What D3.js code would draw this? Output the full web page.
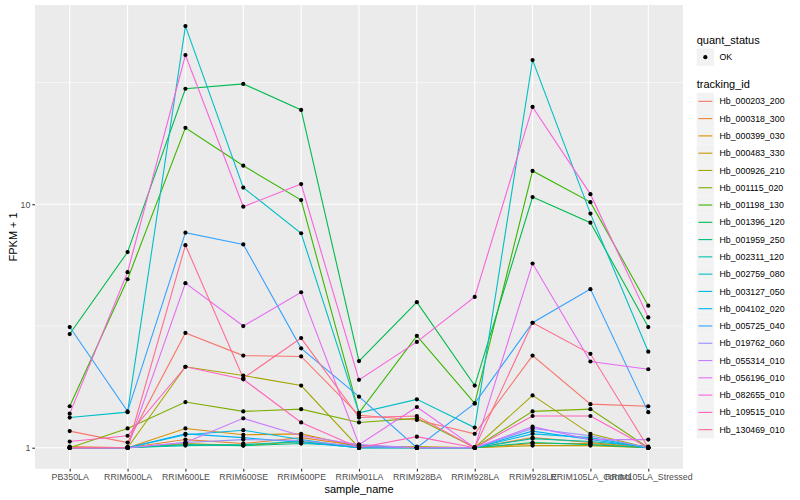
<!DOCTYPE html>
<html>
<head>
<meta charset="utf-8">
<script src="https://cdn.jsdelivr.net/npm/d3@7"></script>
<style>
  body { margin: 0; background: #fff; }
  text { font-family: "Liberation Sans", Arial, sans-serif; }
</style>
</head>
<body>
<svg width="800" height="500"></svg>
<script>
// samples on the x axis
var samples = ["PB350LA", "RRIM600LA", "RRIM600LE", "RRIM600SE", "RRIM600PE", "RRIM901LA",
               "RRIM928BA", "RRIM928LA", "RRIM928LE", "RRIM105LA_Control", "RRIM105LA_Stressed"];

var trackingIds = ["Hb_000203_200", "Hb_000318_300", "Hb_000399_030", "Hb_000483_330", "Hb_000926_210",
                   "Hb_001115_020", "Hb_001198_130", "Hb_001396_120", "Hb_001959_250", "Hb_002311_120",
                   "Hb_002759_080", "Hb_003127_050", "Hb_004102_020", "Hb_005725_040", "Hb_019762_060",
                   "Hb_055314_010", "Hb_056196_010", "Hb_082655_010", "Hb_109515_010", "Hb_130469_010"];

// FPKM + 1, one array per gene, in sample order
var hb_000203_200 = [1.17, 1.05, 2.96, 2.39, 2.37, 1.36, 1.30, 1.14, 2.39, 1.51, 1.48];
var hb_000318_300 = [1.01, 1.00, 1.08, 1.04, 1.10, 1.02, 1.00, 1.00, 1.10, 1.05, 1.00];
var hb_000399_030 = [1.00, 1.00, 1.20, 1.13, 1.14, 1.01, 1.00, 1.00, 1.04, 1.04, 1.00];
var hb_000483_330 = [1.00, 1.00, 1.04, 1.02, 1.06, 1.00, 1.01, 1.00, 1.02, 1.02, 1.00];
var hb_000926_210 = [1.00, 1.00, 2.15, 1.98, 1.80, 1.00, 1.00, 1.00, 1.64, 1.14, 1.00];
var hb_001115_020 = [1.00, 1.20, 1.54, 1.41, 1.44, 1.27, 1.32, 1.00, 1.41, 1.44, 1.00];
var hb_001198_130 = [1.48, 4.92, 20.6, 14.4, 10.4, 1.39, 2.88, 1.52, 13.7, 10.2, 3.83];
var hb_001396_120 = [2.93, 6.36, 29.8, 31.2, 24.4, 2.27, 3.96, 1.80, 10.7, 8.40, 3.13];
var hb_001959_250 = [1.00, 1.00, 1.03, 1.02, 1.04, 1.02, 1.00, 1.00, 1.05, 1.03, 1.00];
var hb_002311_120 = [1.00, 1.00, 1.02, 1.03, 1.06, 1.00, 1.00, 1.00, 1.09, 1.06, 1.01];
var hb_002759_080 = [1.33, 1.40, 53.9, 11.7, 7.60, 1.39, 1.58, 1.21, 39.1, 9.15, 2.48];
var hb_003127_050 = [1.00, 1.00, 1.13, 1.18, 1.08, 1.00, 1.00, 1.00, 1.14, 1.10, 1.00];
var hb_004102_020 = [1.00, 1.00, 1.14, 1.10, 1.05, 1.00, 1.00, 1.00, 1.17, 1.08, 1.00];
var hb_005725_040 = [3.13, 1.41, 7.64, 6.84, 2.56, 1.62, 1.00, 1.52, 3.26, 4.48, 1.40];
var hb_019762_060 = [1.00, 1.00, 1.05, 1.08, 1.07, 1.01, 1.00, 1.00, 1.20, 1.12, 1.00];
var hb_055314_010 = [1.00, 1.00, 1.05, 1.32, 1.12, 1.03, 1.00, 1.00, 1.22, 1.08, 1.08];
var hb_056196_010 = [1.00, 1.00, 4.74, 3.16, 4.35, 1.03, 1.47, 1.00, 5.71, 2.26, 2.10];
var hb_082655_010 = [1.38, 5.26, 41.0, 9.77, 12.1, 1.90, 2.72, 4.16, 25.1, 11.0, 3.43];
var hb_109515_010 = [1.06, 1.12, 2.15, 1.91, 1.27, 1.00, 1.11, 1.00, 1.35, 1.35, 1.00];
var hb_130469_010 = [1.00, 1.00, 6.79, 1.93, 2.82, 1.33, 1.35, 1.00, 3.26, 2.43, 1.00];

var geneValues = [hb_000203_200, hb_000318_300, hb_000399_030, hb_000483_330, hb_000926_210,
                  hb_001115_020, hb_001198_130, hb_001396_120, hb_001959_250, hb_002311_120,
                  hb_002759_080, hb_003127_050, hb_004102_020, hb_005725_040, hb_019762_060,
                  hb_055314_010, hb_056196_010, hb_082655_010, hb_109515_010, hb_130469_010];

// ggplot hue palette for 20 groups
var palette = ["#F8766D", "#EA8331", "#D89000", "#C09B00", "#A3A500", "#7CAE00", "#39B600", "#00BB4E",
               "#00BF7D", "#00C1A3", "#00BFC4", "#00BAE0", "#00B0F6", "#35A2FF", "#9590FF", "#C77CFF",
               "#E76BF3", "#FA62DB", "#FF62BC", "#FF6C91"];

var series = trackingIds.map(function(id, i) {
    return { id: id, color: palette[i],
             pts: samples.map(function(s, j) { return { sample: s, v: geneValues[i][j] }; }) };
});

var svg = d3.select("svg");
var panel = { left: 35, right: 683, top: 5, bottom: 468.8 };

var x = d3.scalePoint().domain(samples).range([panel.left, panel.right]).padding(0.6);

var maxV = d3.max(geneValues, function(r) { return d3.max(r); });
var lmax = Math.log10(maxV);
var y = d3.scaleLog()
    .domain([Math.pow(10, -0.05 * lmax), Math.pow(10, 1.05 * lmax)])
    .range([panel.bottom, panel.top]);

// panel background
svg.append("rect")
    .attr("x", panel.left).attr("y", panel.top)
    .attr("width", panel.right - panel.left).attr("height", panel.bottom - panel.top)
    .attr("fill", "#EBEBEB");

// minor grid (log midpoints)
var minor = [Math.pow(10, 0.5), Math.pow(10, 1.5)];
svg.selectAll(".minor").data(minor).enter().append("line")
    .attr("x1", panel.left).attr("x2", panel.right)
    .attr("y1", function(d) { return y(d); }).attr("y2", function(d) { return y(d); })
    .attr("stroke", "#fff").attr("stroke-width", 0.55);

var majorY = [1, 10];
svg.selectAll(".majorY").data(majorY).enter().append("line")
    .attr("x1", panel.left).attr("x2", panel.right)
    .attr("y1", function(d) { return y(d); }).attr("y2", function(d) { return y(d); })
    .attr("stroke", "#fff").attr("stroke-width", 1.1);

svg.selectAll(".majorX").data(samples).enter().append("line")
    .attr("x1", function(d) { return x(d); }).attr("x2", function(d) { return x(d); })
    .attr("y1", panel.top).attr("y2", panel.bottom)
    .attr("stroke", "#fff").attr("stroke-width", 1.1);

// lines then points
var line = d3.line()
    .x(function(d) { return x(d.sample); })
    .y(function(d) { return y(d.v); });

svg.append("g").selectAll("path").data(series).enter().append("path")
    .attr("d", function(d) { return line(d.pts); })
    .attr("fill", "none")
    .attr("stroke", function(d) { return d.color; })
    .attr("stroke-width", 1.1);

var allPts = [];
series.forEach(function(s) { allPts = allPts.concat(s.pts); });
svg.append("g").selectAll("circle").data(allPts).enter().append("circle")
    .attr("cx", function(d) { return x(d.sample); })
    .attr("cy", function(d) { return y(d.v); })
    .attr("r", 2.1)
    .attr("fill", "#000");

// axes
var yAxis = d3.axisLeft(y).tickValues(majorY).tickFormat(d3.format("d")).tickSize(2.7).tickPadding(2);
var gy = svg.append("g").attr("transform", "translate(" + panel.left + ",0)").call(yAxis);
var xAxis = d3.axisBottom(x).tickSize(2.7).tickPadding(2);
var gx = svg.append("g").attr("transform", "translate(0," + panel.bottom + ")").call(xAxis);
[gx, gy].forEach(function(g) {
    g.select(".domain").remove();
    g.selectAll(".tick line").attr("stroke", "#333333").attr("stroke-width", 1.1);
    g.selectAll(".tick text").attr("fill", "#4D4D4D").style("font-size", "8.8px")
        .style("font-family", "'Liberation Sans', Arial, sans-serif");
});

svg.append("text")
    .attr("x", (panel.left + panel.right) / 2).attr("y", 493)
    .attr("text-anchor", "middle").style("font-size", "11px").attr("fill", "#000")
    .text("sample_name");

svg.append("text")
    .attr("transform", "translate(17," + ((panel.top + panel.bottom) / 2) + ") rotate(-90)")
    .attr("text-anchor", "middle").style("font-size", "11px").attr("fill", "#000")
    .text("FPKM + 1");

// legends
var lx = 696.7, keySize = 17.28;
svg.append("text").attr("x", lx).attr("y", 44).style("font-size", "11px").text("quant_status");
svg.append("rect").attr("x", lx).attr("y", 48.5).attr("width", keySize).attr("height", keySize).attr("fill", "#F2F2F2");
svg.append("circle").attr("cx", lx + keySize / 2).attr("cy", 48.5 + keySize / 2).attr("r", 2.1).attr("fill", "#000");
svg.append("text").attr("x", lx + keySize + 5.5).attr("y", 48.5 + keySize / 2 + 3.1)
    .style("font-size", "8.8px").text("OK");

svg.append("text").attr("x", lx).attr("y", 88).style("font-size", "11px").text("tracking_id");
var key = svg.append("g").selectAll("g").data(series).enter().append("g")
    .attr("transform", function(d, i) { return "translate(" + lx + "," + (92.7 + i * keySize) + ")"; });
key.append("rect").attr("width", keySize).attr("height", keySize).attr("fill", "#F2F2F2");
key.append("line").attr("x1", 1.7).attr("x2", keySize - 1.7)
    .attr("y1", keySize / 2).attr("y2", keySize / 2)
    .attr("stroke", function(d) { return d.color; }).attr("stroke-width", 1.1);
key.append("text").attr("x", keySize + 5.5).attr("y", keySize / 2 + 3.1)
    .style("font-size", "8.8px").text(function(d) { return d.id; });
</script>
</body>
</html>
